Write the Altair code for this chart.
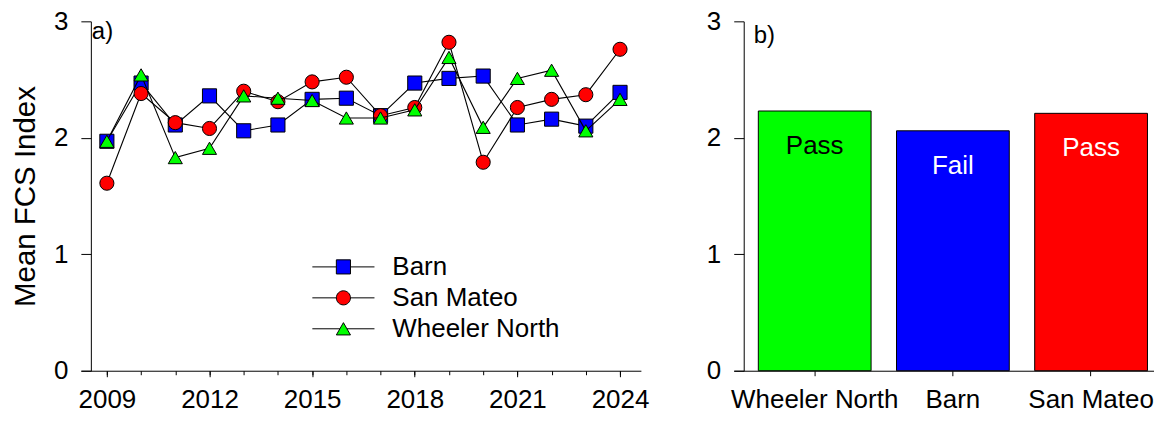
import altair as alt
import pandas as pd

FONT = "Liberation Sans"

# panel a) yearly means
years = list(range(2009, 2025))
year_ticks = [2009, 2012, 2015, 2018, 2021, 2024]
value_ticks = [0, 1, 2, 3]

barn = [1.97, 2.47, 2.11, 2.36, 2.06, 2.11, 2.33, 2.34, 2.19, 2.47, 2.51, 2.53, 2.11, 2.16, 2.10, 2.39]
san_mateo = [1.61, 2.38, 2.13, 2.08, 2.40, 2.31, 2.48, 2.52, 2.19, 2.26, 2.82, 1.79, 2.26, 2.33, 2.37, 2.76]
wheeler_north = [1.97, 2.54, 1.83, 1.91, 2.36, 2.34, 2.32, 2.17, 2.17, 2.24, 2.69, 2.09, 2.51, 2.58, 2.06, 2.33]

sites = ["Barn", "San Mateo", "Wheeler North"]
site_colors = ["#0000ff", "#ff0000", "#00ff00"]
site_shapes = ["square", "circle", "triangle-up"]
# legend symbols: marker with a line through it
legend_shapes = [
    "M-4.4,0H-1M1,0H4.4M-1,-1H1V1H-1Z",
    "M-4.4,0H-1M1,0H4.4M1,0A1,1 0 1,1 -1,0A1,1 0 1,1 1,0Z",
    "M-4.4,0H-0.5M0.5,0H4.4M0,-0.87L1,0.87L-1,0.87Z",
]

# panel b) overall means
bar_sites = ["Wheeler North", "Barn", "San Mateo"]
bar_means = [2.23, 2.06, 2.21]
bar_results = ["Pass", "Fail", "Pass"]

df = pd.DataFrame({
    "year": years * len(sites),
    "value": barn + san_mateo + wheeler_north,
    "site": [s for s in sites for _ in years],
})

PLOT_H = 350

x_scale = alt.Scale(domain=[2008.24, 2024.61], nice=False, zero=False)
y_scale = alt.Scale(domain=[0, 3], nice=False)
y_axis = alt.Axis(values=value_ticks, format="d", tickSize=10, labelPadding=13, offset=-10,
                  title="Mean FCS Index", titlePadding=13, titleFontSize=29.5)
major_x = alt.Axis(values=year_ticks, format="d", tickSize=6, labelPadding=10,
                   title=None, orient="bottom")
minor_x = alt.Axis(values=years, tickSize=4, labels=False, domain=False,
                   title=None, orient="bottom")

layers = []
for i, site in enumerate(sites):
    base = alt.Chart(df).transform_filter(alt.datum.site == site)
    x_axis = major_x if i == 0 else (minor_x if i == 1 else None)
    line = base.mark_line(color="black", strokeWidth=1.1).encode(
        x=alt.X("year:Q", scale=x_scale, axis=x_axis),
        y=alt.Y("value:Q", scale=y_scale, axis=y_axis),
    )
    pts = base.mark_point(filled=True, size=200, stroke="black", strokeWidth=1, opacity=1).encode(
        x=alt.X("year:Q", scale=x_scale, axis=None),
        y=alt.Y("value:Q", scale=y_scale, axis=y_axis),
        color=alt.Color("site:N", scale=alt.Scale(domain=sites, range=site_colors), legend=None),
        shape=alt.Shape("site:N", scale=alt.Scale(domain=sites, range=site_shapes), legend=None),
    )
    layers += [line, pts]

# legend only: no rows survive the filter, the explicit domains give the entries
legend_spec = alt.Legend(
    title=None, orient="none", legendX=250, legendY=233,
    labelFont=FONT, labelFontSize=26, labelColor="black", labelLimit=400,
    symbolSize=200, symbolStrokeWidth=1,
    symbolOpacity=1, labelOffset=36, rowPadding=5, padding=0,
)
legend_layer = alt.Chart(pd.DataFrame({"entry": sites})).transform_filter(
    alt.datum.entry == "none"
).mark_point(filled=False, size=200, stroke="black", strokeWidth=1, opacity=1).encode(
    x=alt.X("year:Q", scale=x_scale, axis=None),
    y=alt.Y("value:Q", scale=y_scale, axis=y_axis),
    fill=alt.Fill("entry:N", scale=alt.Scale(domain=sites, range=site_colors), legend=legend_spec),
    shape=alt.Shape("entry:N", scale=alt.Scale(domain=sites, range=legend_shapes), legend=legend_spec),
)

tag_a = alt.Chart(pd.DataFrame({"panel": ["a)"]})).mark_text(
    align="left", baseline="top", fontSize=24, font=FONT, color="black"
).encode(text="panel:N", x=alt.value(11), y=alt.value(-1))

left = alt.layer(*layers, legend_layer, tag_a).resolve_scale(
    color="independent", shape="independent", fill="independent"
).resolve_axis(x="independent").properties(width=561, height=PLOT_H)

bars_df = pd.DataFrame({"site": bar_sites, "mean": bar_means, "result": bar_results})
xb = alt.X("site:N", sort=bar_sites,
           scale=alt.Scale(paddingInner=0.184, paddingOuter=0.1126, align=0.79),
           axis=alt.Axis(title=None, labelAngle=0, tickSize=5, labelPadding=11))
yb = alt.Y("mean:Q", scale=y_scale,
           axis=alt.Axis(values=value_ticks, format="d", tickSize=10, labelPadding=13,
                         offset=-10, title=None))
bars = alt.Chart(bars_df).mark_bar(stroke="black", strokeWidth=1).encode(
    x=xb, y=yb,
    color=alt.Color("site:N", scale=alt.Scale(domain=sites, range=site_colors), legend=None),
)
bar_text = alt.Chart(bars_df).mark_text(baseline="middle", dy=35, fontSize=26, font=FONT).encode(
    x=alt.X("site:N", sort=bar_sites),
    y="mean:Q",
    text="result:N",
    color=alt.when(alt.datum.site == "Wheeler North").then(alt.value("black")).otherwise(alt.value("white")),
)
tag_b = alt.Chart(pd.DataFrame({"panel": ["b)"]})).mark_text(
    align="left", baseline="top", fontSize=24, font=FONT, color="black"
).encode(text="panel:N", x=alt.value(20), y=alt.value(3))

right = alt.layer(bars, bar_text, tag_b).properties(width=421, height=PLOT_H)

chart = alt.hconcat(left, right, spacing=56).resolve_scale(
    color="independent", shape="independent", fill="independent"
).properties(
    padding={"left": 2, "top": 0, "right": 0, "bottom": 0}
).configure_view(strokeWidth=0).configure_axis(
    grid=False, domainColor="black", tickColor="black", labelColor="black",
    titleColor="black", labelFont=FONT, titleFont=FONT, labelFontSize=26,
    titleFontWeight="normal", domainWidth=1, tickWidth=1,
)

chart.save("out.html", embed_options={"renderer": "svg", "actions": False})
